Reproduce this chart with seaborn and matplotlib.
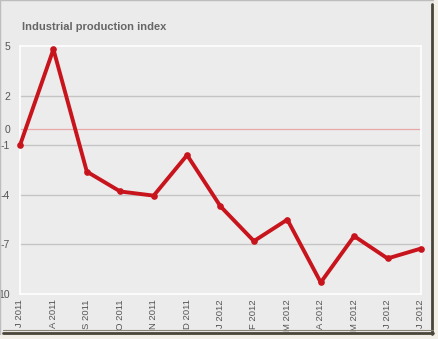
import matplotlib
matplotlib.use("Agg")
import matplotlib.pyplot as plt
import seaborn as sns
import pandas as pd
from matplotlib.lines import Line2D
from matplotlib.patches import Rectangle

months = ["J 2011", "A 2011", "S 2011", "O 2011", "N 2011", "D 2011", "J 2012",
          "F 2012", "M 2012", "A 2012", "M 2012", "J 2012", "J 2012"]
values = [-1.0, 4.8, -2.6, -3.8, -4.05, -1.6, -4.7, -6.8, -5.5, -9.3, -6.5, -7.85, -7.25]
ytick_vals = [5, 2, 0, -1, -4, -7, -10]
ytick_labels = ["5", "2", "0", "-1", "-4", "-7", "10"]

sns.set_theme(style="white")
plt.rcParams['font.family'] = ['Liberation Sans', 'DejaVu Sans']

W, H = 439, 339
fig = plt.figure(figsize=(W / 100, H / 100), dpi=100)
fig.patch.set_facecolor("#ebebeb")

def fx(px):
    return px / W

def fy(py):
    return 1 - py / H

ax = fig.add_axes([fx(20), fy(294), fx(421) - fx(20), fy(46) - fy(294)])
ax.set_facecolor("#ececec")

df = pd.DataFrame({"idx": range(len(months)), "value": values})

for v in [2, -1, -4, -7]:
    ax.axhline(v, color="#c4c4c4", lw=1.0, zorder=1)
ax.axhline(0, color="#e8a8a8", lw=0.9, zorder=1)

sns.lineplot(data=df, x="idx", y="value", ax=ax, color="#c8141c", lw=2.8,
             marker="o", markersize=4.8, markeredgewidth=0, zorder=3, clip_on=False)

ax.set_xlim(0, len(months) - 1)
ax.set_ylim(-10, 5)
ax.set_yticks(ytick_vals)
ax.set_yticklabels(ytick_labels)
ax.set_xticks(range(len(months)))
ax.set_xticklabels(months, rotation=90)
ax.tick_params(axis="both", length=0, colors="#555555")
ax.tick_params(axis="y", pad=7, labelsize=7.5)
ax.tick_params(axis="x", pad=4, labelsize=6.8)
ax.set_xlabel("")
ax.set_ylabel("")
for s in ax.spines.values():
    s.set_color("white")
    s.set_linewidth(1.2)

fig.text(fx(22), fy(27), "Industrial production index", fontsize=8, fontweight="bold",
         color="#666666", ha="left", va="center")

# photo frame
fig.add_artist(Rectangle((0, 0), 1, 1, transform=fig.transFigure, fill=False,
                         edgecolor="#bdbdbd", lw=1.0))
fig.add_artist(Rectangle((fx(434), 0), 1 - fx(434), 1, transform=fig.transFigure,
                         facecolor="#f2efe8", edgecolor="none"))
fig.add_artist(Rectangle((0, 0), 1, fy(335), transform=fig.transFigure,
                         facecolor="#f2efe8", edgecolor="none"))
fig.add_artist(Line2D([fx(432.5), fx(432.5)], [fy(334), fy(4)], transform=fig.transFigure,
                      color="#4a4538", lw=2.0))
fig.add_artist(Line2D([fx(3), fx(433)], [fy(333), fy(333)], transform=fig.transFigure,
                      color="#4a4538", lw=2.0))
fig.add_artist(Line2D([fx(3), fx(433)], [fy(330), fy(330)], transform=fig.transFigure,
                      color="#8a8478", lw=0.8))

fig.savefig("out.png", dpi=100, facecolor=fig.get_facecolor())
